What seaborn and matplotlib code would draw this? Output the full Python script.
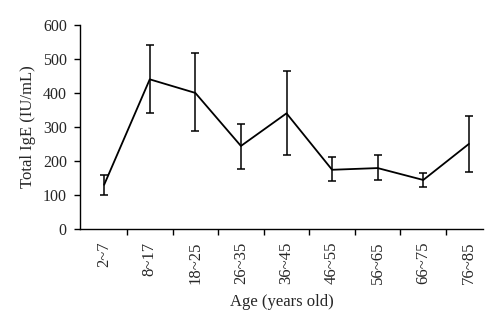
import matplotlib
matplotlib.use("Agg")
import matplotlib.pyplot as plt
import seaborn as sns
import pandas as pd
import numpy as np

ages = ["2~7", "8~17", "18~25", "26~35", "36~45", "46~55", "56~65", "66~75", "76~85"]
ige_mean = [130, 440, 400, 244, 340, 174, 179, 144, 250]
err_low = [100, 341, 289, 176, 218, 141, 144, 123, 166]
err_high = [160, 540, 517, 309, 465, 212, 218, 165, 332]

sns.set_theme(style="ticks")
plt.rcParams['font.family'] = ['Liberation Serif', 'DejaVu Serif']

fig = plt.figure(figsize=(5.0, 3.28), dpi=100)
ax = fig.add_axes([0.16, 0.302, 0.806, 0.622])

df = pd.DataFrame({"age": ages, "ige": ige_mean, "pos": np.arange(len(ages))})
sns.lineplot(data=df, x="pos", y="ige", ax=ax, color="black", linewidth=1.3)
yerr = [np.array(ige_mean) - np.array(err_low), np.array(err_high) - np.array(ige_mean)]
ax.errorbar(df["pos"], ige_mean, yerr=yerr, fmt="none", ecolor="black",
            elinewidth=1.1, capsize=3, capthick=1.1)

ax.set_xlim(-0.53, 8.31)
ax.set_ylim(0, 600)
ax.set_yticks([0, 100, 200, 300, 400, 500, 600])
ax.set_xticks(np.arange(len(ages) - 1) + 0.5)
ax.set_xticklabels([])
ax.set_xticks(np.arange(len(ages)), minor=True)
ax.set_xticklabels(ages, minor=True, rotation=90, fontsize=12)
ax.tick_params(axis="x", which="minor", length=0, pad=9)
ax.tick_params(axis="x", which="major", length=4.5, width=1, color="black")
ax.tick_params(axis="y", length=4.5, width=1, labelsize=11.5, color="black", pad=5)
for s in ["top", "right"]:
    ax.spines[s].set_visible(False)
for s in ["left", "bottom"]:
    ax.spines[s].set_linewidth(1.0)
    ax.spines[s].set_color("black")

ax.set_xlabel("Age (years old)", fontsize=12, labelpad=7)
ax.set_ylabel("Total IgE (IU/mL)", fontsize=12, labelpad=5)

fig.savefig("out.png", dpi=100)
